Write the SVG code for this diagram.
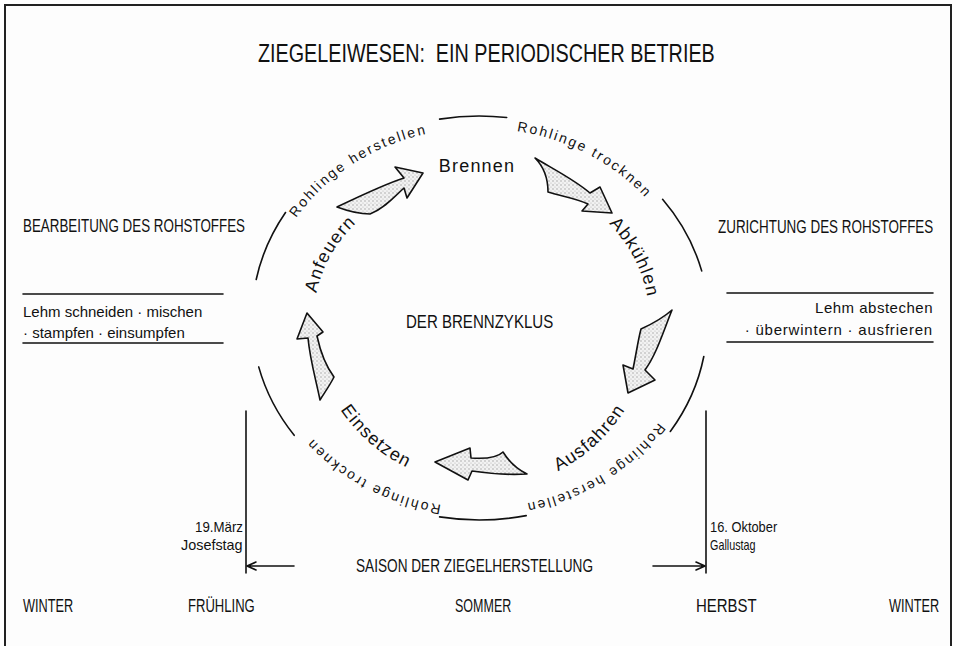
<svg xmlns="http://www.w3.org/2000/svg" width="953" height="646" viewBox="0 0 953 646">
<style>
text{font-family:"Liberation Sans",Arial,sans-serif;fill:#111}
.cap{font-size:18px}
.lc{font-size:15px}
.arc{font-size:14px;letter-spacing:2.1px}
.inner{font-size:18px;letter-spacing:1.2px}
.ln{fill:none;stroke:#111;stroke-width:1.6;stroke-linecap:round}
.big{stroke:#111;stroke-width:1.6;stroke-linejoin:round;fill:url(#stip)}
</style>
<defs>
<pattern id="stip" width="4" height="4" patternUnits="userSpaceOnUse">
<rect width="4" height="4" fill="#f2f2f2"/>
<circle cx="1" cy="1" r="0.7" fill="#9a9a9a"/>
<circle cx="3" cy="3" r="0.6" fill="#b5b5b5"/>
</pattern>
<path id="pA" d="M264.2,309.7 A215,190 0 0 1 525.5,132.5"/>
<path id="pB" d="M412.6,137.3 A215,190 0 0 1 691.9,291.6"/>
<path id="pC" d="M693.5,331.3 A215,190 0 0 1 427.0,502.4"/>
<path id="pD" d="M545.4,498.7 A215,190 0 0 1 266.1,344.4"/>
<path id="pAbk" d="M556.2,187.9 A170,146 0 0 1 641.6,360.7"/>
<path id="pAnf" d="M319.6,355.0 A165,142 0 0 1 409.3,189.3"/>
<path id="pAus" d="M487.0,490.0 A172,172 0 0 0 650.0,340.0"/>
<path id="pEin" d="M315.0,344.0 A166,166 0 0 0 476.0,484.0"/>
</defs>
<rect x="5" y="5" width="946" height="670" fill="#fdfdfd" stroke="#222" stroke-width="2"/>

<g id="title"><text transform="translate(258,62) scale(0.75,1)" font-size="26" textLength="609" lengthAdjust="spacingAndGlyphs" style="white-space:pre">ZIEGELEIWESEN:  EIN PERIODISCHER BETRIEB</text></g>

<g id="connectors">
<path class="ln" d="M439.6,119.1 A227,202 0 0 1 506.7,117.5"/>
<path class="ln" d="M256.2,279.5 A227,202 0 0 1 285.5,212.5"/>
<path class="ln" d="M294.2,435.3 A227,202 0 0 1 258.7,366.9"/>
<path class="ln" d="M526.2,515.6 A227,202 0 0 1 439.6,516.9"/>
<path class="ln" d="M703.8,356.5 A227,202 0 0 1 670.3,431.5"/>
<path class="ln" d="M662.6,199.3 A227,202 0 0 1 701.7,270.9"/>
<path id="arr1" class="big" d="M337,207 C360,196 385,184 404,178 L395,167 L423,173 L407,198 L404,188 C395,196 385,208 370,214 C358,214 345,210 337,207 Z"/>
<path id="arr2" class="big" d="M535,158 C555,170 575,180 590,193 L600,187 L612,213 L582,211 L588,204 C575,198 560,196 548,192 C548,180 545,168 535,158 Z"/>
<path id="arr3" class="big" d="M672,310 C662,335 656,355 645,370 L655,380 L628,393 L623,365 L633,369 C636,355 638,340 641,329 C652,324 663,318 672,310 Z"/>
<path id="arr4" class="big" d="M527,474 C515,468 508,460 503,452 C497,458 485,459 471,458 L470,448 L435,462 L468,480 L472,471 C492,474 510,475 527,474 Z"/>
<path id="arr5" class="big" d="M320,400 C316,380 310,360 308,338 L297,339 L307,313 L323,332 L317,336 C320,350 325,365 334,377 C330,385 325,392 320,400 Z"/>
<path class="ln" d="M246,411 V573 M706,411 V573"/>
<path class="ln" d="M247,566 H294 M247,566 l9,-4 M247,566 l9,4"/>
<path class="ln" d="M653,566 H705 M705,566 l-9,-4 M705,566 l-9,4"/>
<path class="ln" d="M23,294 H223 M23,343 H223 M727,293 H933 M727,342 H933"/>
</g>

<g id="ring-labels">
<text class="arc" text-anchor="middle"><textPath href="#pA" startOffset="50%">Rohlinge herstellen</textPath></text>
<text class="arc" text-anchor="middle"><textPath href="#pB" startOffset="50%">Rohlinge trocknen</textPath></text>
<text class="arc" text-anchor="middle"><textPath href="#pC" startOffset="50%">Rohlinge herstellen</textPath></text>
<text class="arc" text-anchor="middle"><textPath href="#pD" startOffset="50%">Rohlinge trocknen</textPath></text>
</g>

<g id="node-brennen"><text class="inner" x="477" y="172" text-anchor="middle">Brennen</text></g>
<g id="node-abkuehlen"><text class="inner" text-anchor="middle"><textPath href="#pAbk" startOffset="50%">Abkühlen</textPath></text></g>
<g id="node-ausfahren"><text class="inner" text-anchor="middle"><textPath href="#pAus" startOffset="50%">Ausfahren</textPath></text></g>
<g id="node-einsetzen"><text class="inner" text-anchor="middle"><textPath href="#pEin" startOffset="50%">Einsetzen</textPath></text></g>
<g id="node-anfeuern"><text class="inner" text-anchor="middle"><textPath href="#pAnf" startOffset="50%">Anfeuern</textPath></text></g>

<g id="center"><text class="cap" transform="translate(406,328) scale(0.8,1)" textLength="184" lengthAdjust="spacingAndGlyphs">DER BRENNZYKLUS</text></g>

<g id="left-block">
<text class="cap" transform="translate(23,232) scale(0.75,1)" textLength="296" lengthAdjust="spacingAndGlyphs">BEARBEITUNG DES ROHSTOFFES</text>
<text class="lc" x="23" y="317">Lehm schneiden · mischen</text>
<text class="lc" x="23" y="338">· stampfen · einsumpfen</text>
</g>

<g id="right-block">
<text class="cap" transform="translate(718,233) scale(0.75,1)" textLength="287" lengthAdjust="spacingAndGlyphs">ZURICHTUNG DES ROHSTOFFES</text>
<text class="lc" x="933" y="313" text-anchor="end" letter-spacing="0.5">Lehm abstechen</text>
<text class="lc" x="933" y="335" text-anchor="end" letter-spacing="0.8">· überwintern · ausfrieren</text>
</g>

<g id="season">
<text transform="translate(195,532) scale(0.8,1)" font-size="14" textLength="60" lengthAdjust="spacingAndGlyphs">19.März</text>
<text transform="translate(181,550) scale(0.8,1)" font-size="14" textLength="77" lengthAdjust="spacingAndGlyphs">Josefstag</text>
<text transform="translate(710,532) scale(0.8,1)" font-size="14" textLength="84" lengthAdjust="spacingAndGlyphs">16. Oktober</text>
<text transform="translate(710,550) scale(0.8,1)" font-size="14" textLength="57" lengthAdjust="spacingAndGlyphs">Gallustag</text>
<text class="cap" transform="translate(356,572) scale(0.75,1)" textLength="316" lengthAdjust="spacingAndGlyphs">SAISON DER ZIEGELHERSTELLUNG</text>
</g>

<g id="seasons-row">
<text class="cap" transform="translate(23,612) scale(0.75,1)" textLength="67" lengthAdjust="spacingAndGlyphs">WINTER</text>
<text class="cap" transform="translate(188,612) scale(0.75,1)" textLength="89" lengthAdjust="spacingAndGlyphs">FRÜHLING</text>
<text class="cap" transform="translate(455,612) scale(0.75,1)" textLength="75" lengthAdjust="spacingAndGlyphs">SOMMER</text>
<text class="cap" transform="translate(696,612) scale(0.75,1)" textLength="81" lengthAdjust="spacingAndGlyphs">HERBST</text>
<text class="cap" transform="translate(889,612) scale(0.75,1)" textLength="67" lengthAdjust="spacingAndGlyphs">WINTER</text>
</g>
</svg>
